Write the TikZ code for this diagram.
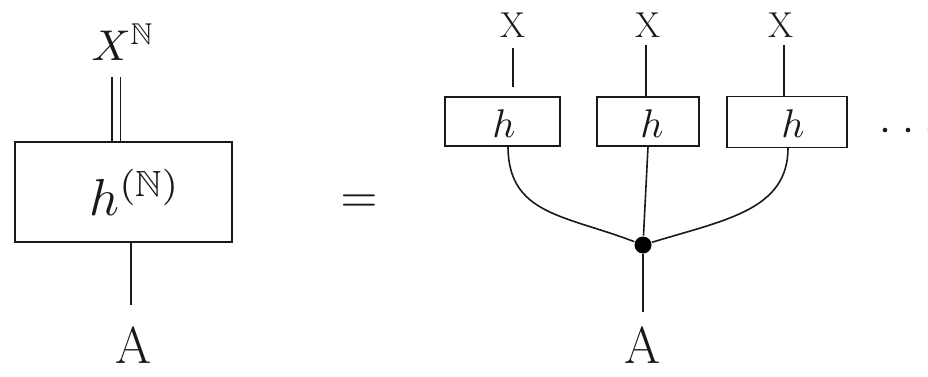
\documentclass[tikz,border=0pt]{standalone}
\usepackage{amssymb}
\begin{document}
\begin{tikzpicture}[x=1pt,y=-1pt,line width=1.6pt,
  ink/.style={draw=black!90},
  bigbox/.style={draw=black!90,rectangle,inner sep=0pt,minimum width=217pt,minimum height=100pt},
  hbox/.style={draw=black!90,rectangle,inner sep=0pt,minimum height=49pt},
  lbl/.style={inner sep=0pt,text=black!90},
  biglbl/.style={lbl,font=\fontsize{52}{52}\selectfont},
  xlbl/.style={lbl,font=\fontsize{36}{36}\selectfont},
  dbl/.style={draw=black!90,double=white,double distance=7pt},
  junction/.style={circle,fill=black,inner sep=0pt,minimum size=17pt}]
\fill[white] (0,0) rectangle (928,376);
\useasboundingbox (0,0) rectangle (928,376);

% left side
\node[bigbox] (L) at (123.5,192) {};
\node[lbl] (Lh) at (135,192) {\scalebox{5.2}{$h^{(\mathbb{N})}$}};
\node[lbl] (XN) at (123,42) {\scalebox{4.3}{$X^{\mathbb{N}}$}};
\coordinate (dtop) at (116,77);
\draw[dbl] (dtop) -- (dtop |- L.north);
\coordinate (lbot) at (131,305);
\draw[ink] (lbot |- L.south) -- (lbot);
\node[biglbl] (LA) at (134,345) {A};

% equals
\node[lbl] (eq) at (359,204) {\scalebox{4.8}{$=$}};

% right side
\node[hbox,minimum width=115pt] (B1) at (502.5,121.5) {};
\node[hbox,minimum width=102pt] (B2) at (648,121.5) {};
\node[hbox,minimum width=120pt,minimum height=51pt] (B3) at (787,122) {};
\node[lbl] (h1) at (504,124) {\scalebox{4}{$h$}};
\node[lbl] (h2) at (652,124) {\scalebox{4}{$h$}};
\node[lbl] (h3) at (793,124) {\scalebox{4}{$h$}};

\node[xlbl] (X1) at (513,25) {X};
\node[xlbl] (X2) at (648,25) {X};
\node[xlbl] (X3) at (781,25) {X};

\coordinate (x1a) at (513,48);
\coordinate (x1b) at (513,87);
\draw[ink] (x1a) -- (x1b);
\coordinate (x2a) at (646,45);
\draw[ink] (x2a) -- (x2a |- B2.north);
\coordinate (x3a) at (784,45);
\draw[ink] (x3a) -- (x3a |- B3.north);

\node[junction] (d) at (643,245) {};
\coordinate (b1out) at (508,146);
\coordinate (b3out) at (788,148);
\draw[ink] (b1out) .. controls (508,215) and (565,215) .. (d);
\draw[ink] (b3out) .. controls (788,210) and (725,220) .. (d);
\draw[ink] (B2.south) -- (d);
\coordinate (rbot) at (643,312);
\draw[ink] (d) -- (rbot);
\node[biglbl] (RA) at (643,345) {A};

% dots
\fill[black!90] (885,130) circle (2.3pt) (908,130) circle (2.3pt) (930,130) circle (2.3pt);
\end{tikzpicture}
\end{document}
